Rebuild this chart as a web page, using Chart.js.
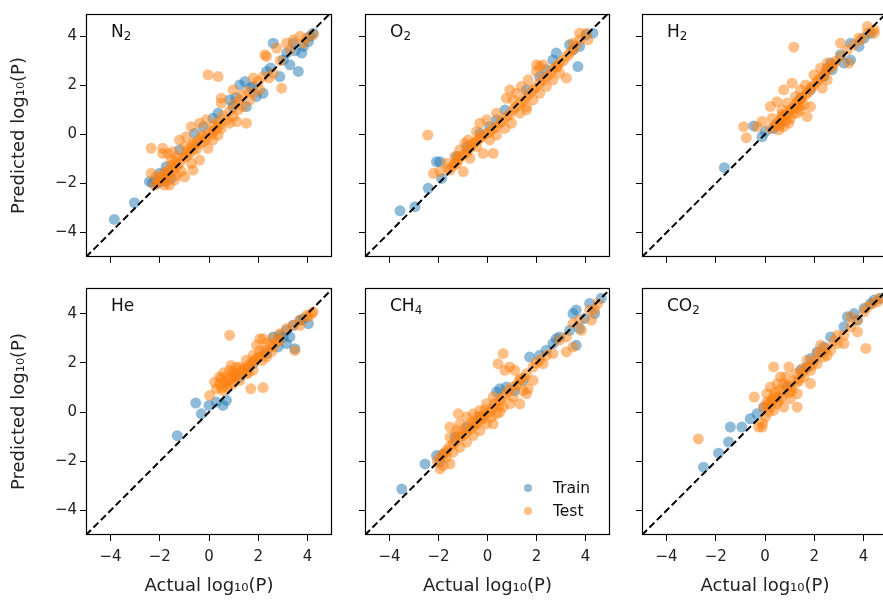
<!DOCTYPE html>
<html>
<head>
<meta charset="utf-8">
<script src="https://cdn.jsdelivr.net/npm/chart.js@4.4.1/dist/chart.umd.min.js"></script>
<style>
    body { margin: 0; width: 883px; height: 600px; overflow: hidden; background: #fff; position: relative; font-family: "DejaVu Sans", sans-serif; }
    canvas { position: absolute; }
    .gas { position: absolute; font-size: 17px; line-height: 17px; color: #111; white-space: nowrap; }
    .gas sub { font-size: 70%; line-height: 0; vertical-align: -0.22em; }
    .legend { position: absolute; left: 520px; top: 478px; font-size: 15.5px; color: #111; }
    .legend div { position: relative; height: 23px; line-height: 20px; padding-left: 33px; }
    .legend span { position: absolute; left: 4px; top: 6px; width: 8px; height: 8px; border-radius: 50%; }
</style>
</head>
<body>
<script>
// Actual vs predicted log10(P) as [actual, predicted]
var n2Train = [[-3.85,-3.47],[-3.03,-2.79],[-2.42,-1.93],[-2.15,-1.86],[-2.29,-1.97],[-1.81,-1.93],[-1.54,-1.8],[-2.01,-1.59],[-1.74,-1.32],[-1.2,-0.64],[-0.59,0.04],[-0.24,0.31],[0.16,0.65],[0.37,0.86],[0.84,1.4],[0.98,1.13],[1.25,2.01],[1.46,2.15],[1.52,1.13],[1.8,1.95],[1.93,1.54],[2.2,1.67],[2.34,2.56],[2.61,3.71],[2.88,2.35],[3.02,3.03],[3.16,3.31],[3.29,2.83],[3.43,3.71],[3.63,2.56],[3.77,3.31],[3.84,3.58],[4.04,3.78],[4.1,3.99],[4.24,4.12],
    [1.1,1.5],[1.7,1.9],[2.5,2.7],[3.5,3.4],[-2.1,-2.0]]
var n2Test = [[-0.04,2.42],[0.37,2.35],[-2.35,-0.57],[-1.88,-0.78],[-1.2,-0.23],[-0.93,-0.1],[-0.72,0.31],[-0.38,0.45],[-0.11,0.59],
    [-1.74,-1.73],[-1.47,-1.46],[-1.2,-1.18],[-0.93,-0.91],[-0.65,-0.64],[-0.38,-0.37],[-0.11,-0.16],[0.16,0.11],[0.44,0.38],[0.71,0.59],
    [-2.01,-1.93],[-2.15,-1.73],[-1.61,-2.07],[-1.4,-1.86],[-1.13,-1.52],[-0.99,-1.73],[-0.65,-1.46],[-0.38,-1.05],[-0.72,-1.18],[-1.27,-0.91],[-1.54,-1.05],[-1.47,-0.71],[-0.99,-0.5],[-0.65,-0.37],[-0.24,-0.1],[0.16,-0.23],[-0.04,-0.57],[0.37,-0.03],[0.5,0.24],[0.84,0.45],[0.98,0.72],[1.18,0.99],[1.39,1.13],[1.12,0.52],[1.52,0.45],
    [0.5,1.47],[0.5,1.27],[0.98,1.81],[1.8,2.29],[2.0,2.15],[2.2,2.35],[2.61,2.49],[2.95,1.88],[2.34,3.17],[2.27,3.24],[2.75,3.51],[3.43,3.85],[3.7,3.99],[3.97,3.92],[4.24,4.05],[3.84,3.71],[3.16,3.71],[1.8,1.67],[2.07,1.81],[1.66,1.4],[1.25,1.4],
    [-2.35,-1.59],[-2.22,-2.07],[-1.81,-2.07],[-1.33,-1.66],[-1.67,-0.78],[-1.88,-0.57],[-1.9,-1.8],[-1.7,-1.9],[-1.6,-1.6],[-1.3,-1.3],[-0.8,-0.8],[-0.5,-0.6],[-0.2,-0.3],[0.1,0.0],[0.3,0.2],
    [-2.1,-2.0],[-1.95,-1.7],[-1.8,-1.55],[-1.65,-1.45],[-1.5,-1.25],[-1.35,-1.1],[-1.05,-0.95],[-0.9,-0.7],[-0.75,-0.55],[-0.6,-0.4],[-0.45,-0.25],[-0.3,-0.05],[0.0,0.15],[0.2,0.35],[0.35,0.5],[0.55,0.75],[0.85,0.95],[1.05,1.25],[1.35,1.6],[1.6,1.75],[2.45,2.3],[2.9,3.0],[3.3,3.45]]

var o2Train = [[-3.57,-3.12],[-2.96,-2.95],[-2.42,-2.2],[-2.08,-1.12],[-1.94,-1.12],[-1.87,-1.8],[-1.26,-0.91],[-0.85,-0.5],[-0.31,0.04],[0.09,0.31],[0.37,0.59],[0.71,0.99],[1.59,1.81],[2.13,2.35],[2.4,2.63],[2.67,3.03],[2.81,3.31],[3.35,3.65],[3.49,3.44],[3.69,2.76],[3.76,3.58],[4.03,4.05],[4.3,4.12]]
var o2Test = [[-2.44,-0.03],[-2.21,-1.59],[-1.94,-1.52],[-1.53,-1.46],[-1.33,-1.18],[-0.99,-1.52],[-1.13,-0.91],[-0.79,-0.64],[-0.58,-0.37],[-0.31,-0.16],[-0.04,0.04],[0.23,0.24],[0.5,0.45],[0.77,0.72],[1.04,0.99],[1.32,1.27],[1.59,1.54],[1.86,1.81],[2.13,2.08],[2.4,2.35],[2.67,2.63],[2.94,2.9],[3.22,3.17],[3.49,3.44],[3.76,3.85],[4.03,4.12],
    [-0.72,-0.98],[-0.45,-0.5],[-0.18,-0.78],[0.23,-0.78],[-0.45,0.11],[-0.79,-0.23],[0.09,-0.23],[0.37,-0.03],[0.71,0.24],[0.98,0.45],[1.32,0.86],[1.59,0.99],[1.04,1.4],[0.77,1.47],[0.91,1.81],[1.38,1.95],[1.66,2.22],[2.0,2.56],[2.27,2.83],[2.0,2.83],[2.94,2.49],[3.22,2.29],[3.49,3.71],[4.1,3.85],[3.76,4.12],[1.59,1.13],[1.86,1.4],[2.13,1.67],[2.4,1.95],[2.67,2.22],[2.81,2.76],[2.13,2.76],[1.18,1.67],[0.37,0.86],[-0.04,0.59],[-0.31,0.45],[-1.26,-1.18],[-1.67,-1.18],[-1.33,-0.91],[-1.13,-0.64],[-0.92,-0.37],
    [-1.6,-1.4],[-1.4,-1.3],[-1.2,-1.05],[-1.0,-0.85],[-0.85,-0.75],[-0.7,-0.5],[-0.5,-0.3],[-0.35,-0.2],[-0.2,-0.05],[0.1,0.1],[0.35,0.3],[0.6,0.55],[0.9,0.8],[1.15,1.1],[1.45,1.35],[1.7,1.65],[1.95,1.9],[2.25,2.2],[2.55,2.45],[2.85,2.75],[3.1,3.0],[3.35,3.3],[3.6,3.6]]

var h2Train = [[-1.65,-1.36],[-0.46,0.34],[-0.12,-0.1],[0.01,0.11],[0.35,0.24],[0.63,0.45],[1.44,1.47],[1.85,1.81],[2.39,2.35],[2.53,2.69],[2.67,2.9],[2.73,2.63],[3.07,3.24],[3.21,2.9],[3.48,3.71],[3.48,3.03],[3.82,3.58],[4.03,3.92],[4.3,4.12]]
var h2Test = [[1.17,3.55],[-0.87,0.31],[-0.76,-0.14],[0.22,1.13],[0.49,1.33],[0.69,0.79],[1.1,2.08],[0.76,1.81],[1.71,0.72],[1.85,1.13],
    [0.42,0.38],[0.63,0.59],[0.83,0.79],[1.03,0.99],[1.24,1.2],[1.44,1.4],[1.65,1.61],[1.85,1.88],[2.05,2.08],[2.26,2.29],[2.46,2.56],[2.67,2.76],[2.87,2.97],[3.07,3.17],[3.35,3.44],[3.62,3.65],[3.89,3.85],[4.16,4.12],[4.44,4.12],
    [0.56,0.18],[0.76,0.31],[0.97,0.45],[1.03,0.65],[1.31,0.86],[1.44,0.99],[1.58,1.2],[0.9,1.27],[0.69,0.99],[1.24,1.54],[1.44,1.81],[1.65,2.01],[2.26,2.69],[2.53,2.9],[3.07,3.71],[3.41,2.9],[3.82,3.92],[4.16,4.39],[4.44,4.26],[1.99,2.42],[2.33,1.88],[2.53,2.22],[0.22,0.24],[0.29,0.65],[-0.33,0.31],[-0.12,0.52],
    [0.5,0.45],[0.7,0.7],[0.9,0.85],[1.1,1.05],[1.3,1.3],[1.5,1.5],[1.75,1.7],[1.95,1.95],[2.15,2.2],[2.4,2.4],[2.6,2.65],[2.8,2.85],[0.6,0.35],[0.85,0.55],[1.15,0.85],[1.4,1.15]]

var heTrain = [[-1.29,-0.96],[-0.54,0.37],[-0.31,-0.07],[0,0.27],[0.3,0.41],[0.57,0.27],[0.71,0.48],[1.25,1.43],[1.79,1.97],[2.34,2.38],[2.61,3.06],[2.81,2.65],[2.88,3.13],[3.02,3.06],[3.15,3.33],[3.15,2.79],[3.29,3.06],[3.42,3.53],[3.49,2.58],[3.7,3.74],[3.83,3.8],[4.04,3.6]]
var heTest = [[0.84,3.13],[0.03,0.68],[1.7,0.95],[2.2,1.0],[3.49,2.51],
    [0.43,1.15],[0.71,1.43],[0.98,1.63],[1.25,1.83],[1.52,2.11],[1.79,2.31],[2.07,2.51],[2.34,2.79],[2.61,2.99],[2.88,3.19],[3.15,3.4],[3.42,3.53],[3.7,3.74],[3.97,3.94],[4.17,4.01],
    [0.43,1.43],[0.57,0.88],[0.84,1.15],[1.11,1.43],[1.39,1.7],[1.59,1.83],[1.79,2.04],[1.99,2.24],[2.2,2.38],[1.93,2.72],[2.07,2.99],[2.34,2.24],[1.25,1.29],[0.98,1.15],[0.71,1.02],[0.3,0.95],[0.84,1.7],[1.11,1.83],[1.52,1.56],[1.79,1.7],[2.61,2.65],[2.88,2.92],[3.7,3.53],[4.04,3.87],[4.24,4.08],[2.2,2.99],[2.54,2.45],[0.23,1.22],[0.5,1.36],
    [0.5,1.0],[0.65,1.2],[0.8,1.3],[0.95,1.4],[1.1,1.55],[1.3,1.65],[1.45,1.8],[1.65,1.95],[1.85,2.1],[2.0,2.2],[2.15,2.1],[2.3,2.5],[2.5,2.7],[2.75,2.85],[1.0,1.5],[1.6,1.6],[0.6,1.6],[0.9,1.9]]

var ch4Train = [[-3.5,-3.13],[-2.55,-2.11],[-2.08,-1.77],[-1.94,-2.04],[-1.8,-1.7],[-1.33,-1.02],[-0.85,-0.61],[-0.31,-0.2],[0.37,0.82],[0.5,0.95],[0.77,1.02],[1.11,0.88],[1.45,1.29],[1.72,2.24],[2.13,2.31],[2.4,2.52],[2.67,2.79],[2.81,2.99],[2.94,3.06],[3.35,3.33],[3.49,4.01],[3.62,4.15],[3.62,2.72],[3.76,3.4],[3.96,3.81],[4.17,4.42],[4.37,4.01],[4.64,4.63]]
var ch4Test = [[0.91,1.84],[1.11,1.7],[1.32,1.36],[1.45,0.88],[1.66,0.95],[1.86,1.29],[0.64,2.38],[0.71,1.7],[0.43,1.97],[-1.94,-2.31],
    [-1.94,-1.84],[-1.67,-1.56],[-1.4,-1.29],[-1.13,-1.02],[-0.85,-0.82],[-0.58,-0.54],[-0.31,-0.34],[-0.04,-0.07],[0.23,0.2],[0.5,0.48],[0.77,0.75],[1.04,1.02],[1.32,1.29],[1.59,1.56],[1.86,1.84],[2.13,2.11],[2.4,2.31],[2.94,2.93],[3.22,3.06],[3.49,3.61],[3.76,3.74],[4.17,4.15],[4.5,4.42],
    [-1.53,-1.02],[-1.26,-0.75],[-1.53,-0.61],[-1.13,-0.48],[-0.85,-0.2],[-1.19,-0.07],[-0.58,-0.07],[-0.31,0.07],[-0.04,0.34],[0.23,0.61],[0.37,-0.07],[0.23,-0.48],[-0.04,-0.48],[-0.31,-0.75],[-0.58,-0.95],[-0.85,-1.22],[-1.13,-1.43],[-1.4,-1.63],[-1.67,-1.84],[-1.8,-2.18],[-1.53,-2.11],[-0.52,-0.41],[-0.18,-0.27],[0.16,-0.2],[0.5,0],[0.64,0.2],[0.91,0.34],[1.04,0.61],[1.32,0.34],[1.59,0.75],[3.49,2.65],[3.22,2.45],[3.83,3.33],[4.24,3.74],[4.37,4.15],[2.67,2.38],[2.27,1.97],
    [-2.05,-2.0],[-1.85,-1.75],[-1.7,-1.65],[-1.55,-1.4],[-1.3,-1.2],[-1.2,-0.9],[-1.0,-0.95],[-0.9,-0.65],[-0.7,-0.7],[-0.65,-0.4],[-0.45,-0.5],[-0.4,-0.2],[-0.2,-0.15],[-0.1,0.1],[0.1,0.0],[0.3,0.35],[0.45,0.25],[0.6,0.6],[0.85,0.9],[1.2,1.1],[1.5,1.4],[2.0,2.0]]

var co2Train = [[-2.5,-2.24],[-1.89,-1.67],[-1.48,-1.22],[-1.41,-0.61],[-0.94,-0.61],[-0.6,-0.27],[-0.33,-0.07],[-0.05,0.2],[0.9,1.02],[1.44,1.7],[1.71,1.84],[1.85,2.18],[2.12,2.45],[2.39,2.65],[2.67,3.06],[3.21,3.47],[3.35,3.88],[3.62,4.01],[3.76,3.74],[4.03,4.22],[4.3,4.42],[4.44,4.56],[4.71,4.63]]
var co2Test = [[-2.71,-1.09],[-0.44,0.61],[-0.12,-0.61],[-0.26,-0.61],[0.35,1.84],[0.97,1.84],[4.1,2.59],
    [-0.05,0.2],[0.22,0.41],[0.49,0.61],[0.76,0.82],[1.03,1.02],[1.31,1.22],[1.58,1.43],[1.85,1.7],[2.12,1.97],[2.39,2.24],[2.67,2.52],[2.94,2.79],[3.21,3.13],[3.48,3.47],[3.76,3.74],[4.03,4.08],[4.37,4.42],[4.64,4.63],
    [0.08,0.75],[0.22,1.02],[0.49,1.16],[0.63,1.43],[0.76,1.16],[0.35,0.61],[0.49,0.34],[0.76,0.2],[1.03,0.54],[1.31,0.75],[1.31,0.2],[1.1,0.88],[0.83,1.43],[1.24,1.56],[1.52,1.77],[1.71,2.11],[1.85,1.16],[0.22,0.2],[0.08,0.41],[0.01,-0.2],[0.35,0.07],[2.26,2.72],[2.12,2.38],[2.53,2.31],[2.94,3.13],[3.21,2.79],[3.48,3.88],[3.76,3.27],[4.16,4.28],[4.57,4.49],
    [0.1,0.3],[0.3,0.5],[0.4,0.8],[0.6,0.9],[0.7,0.6],[0.9,1.1],[1.0,0.8],[1.2,1.3],[1.4,1.3],[1.5,1.6],[1.7,1.8],[1.9,1.9],[2.0,2.1],[2.3,2.4],[2.5,2.6],[2.8,2.9],[0.15,0.0],[0.55,0.45],[-0.1,-0.45]]

var tickValues = [-4, -2, 0, 2, 4]
var xRange = [-5, 5]
var yRangeTop = [-5, 4.9]
var yRangeBottom = [-5, 5.05]
var diagonal = [-5, 5]

var gasNames = ['N<sub>2</sub>', 'O<sub>2</sub>', 'H<sub>2</sub>', 'He', 'CH<sub>4</sub>', 'CO<sub>2</sub>']
var trainSets = [n2Train, o2Train, h2Train, heTrain, ch4Train, co2Train]
var testSets = [n2Test, o2Test, h2Test, heTest, ch4Test, co2Test]

var trainColor = 'rgba(31,119,180,0.5)'
var testColor = 'rgba(255,127,14,0.5)'
var fontFamily = '"DejaVu Sans", sans-serif'

// plot boxes in page pixels: [left, width] per column, [top, height] per row
var colBox = [[86, 246], [365, 245], [642, 246]]
var rowBox = [[14, 243], [288, 247]]
var AXIS_W = 86, AXIS_H = 65, PAD_T = 14, PAD_R = 10

var framePlugin = {
    id: 'frame',
    afterDraw: function (chart) {
        var a = chart.chartArea, ctx = chart.ctx
        ctx.save()
        ctx.strokeStyle = '#000'
        ctx.lineWidth = 1.2
        ctx.strokeRect(Math.round(a.left) + 0.5, Math.round(a.top) + 0.5, Math.round(a.right - a.left) - 1, Math.round(a.bottom - a.top) - 1)
        ctx.restore()
    }
}

function toPoints(pairs) {
    return pairs.map(function (p) { return { x: p[0], y: p[1] } })
}

function tickText(v) {
    return v < 0 ? '\u2212' + Math.abs(v) : String(v)
}

function CreatePanel(i) {
    var col = i % 3, row = Math.floor(i / 3)
    var left = colBox[col][0], w = colBox[col][1]
    var top = rowBox[row][0], h = rowBox[row][1]
    var yRange = row === 0 ? yRangeTop : yRangeBottom

    var canvas = document.createElement('canvas')
    canvas.width = AXIS_W + w + PAD_R
    canvas.height = PAD_T + h + AXIS_H
    canvas.style.left = (left - AXIS_W) + 'px'
    canvas.style.top = (top - PAD_T) + 'px'
    document.body.appendChild(canvas)

    new Chart(canvas, {
        type: 'scatter',
        data: {
            datasets: [{
                type: 'line',
                data: diagonal.map(function (v) { return { x: v, y: v } }),
                borderColor: '#000',
                borderWidth: 2,
                borderDash: [7, 3.5],
                pointRadius: 0,
                fill: false,
                order: 0
            }, {
                label: 'Test',
                data: toPoints(testSets[i]),
                backgroundColor: testColor,
                borderWidth: 0,
                pointRadius: 5.5,
                order: 1
            }, {
                label: 'Train',
                data: toPoints(trainSets[i]),
                backgroundColor: trainColor,
                borderWidth: 0,
                pointRadius: 5.5,
                order: 2
            }]
        },
        options: {
            responsive: false,
            animation: false,
            events: [],
            layout: { autoPadding: false, padding: { top: PAD_T, right: PAD_R, left: 0, bottom: 0 } },
            plugins: { legend: { display: false }, tooltip: { enabled: false } },
            scales: {
                x: {
                    type: 'linear',
                    min: xRange[0],
                    max: xRange[1],
                    afterBuildTicks: function (axis) { axis.ticks = tickValues.map(function (v) { return { value: v } }) },
                    afterFit: function (axis) { axis.height = AXIS_H },
                    grid: { display: true, drawOnChartArea: false, drawTicks: true, tickLength: 6, color: '#000', lineWidth: 1 },
                    border: { display: false },
                    ticks: { display: row === 1, padding: 7.5, color: '#222', font: { family: fontFamily, size: 15 }, callback: tickText },
                    title: { display: row === 1, text: 'Actual log\u2081\u2080(P)', color: '#222', font: { family: fontFamily, size: 18 }, padding: { top: 0, bottom: 3 } }
                },
                y: {
                    type: 'linear',
                    min: yRange[0],
                    max: yRange[1],
                    afterBuildTicks: function (axis) { axis.ticks = tickValues.map(function (v) { return { value: v } }) },
                    afterFit: function (axis) { axis.width = AXIS_W },
                    grid: { display: true, drawOnChartArea: false, drawTicks: true, tickLength: 6, color: '#000', lineWidth: 1 },
                    border: { display: false },
                    ticks: { display: col === 0, padding: 3, color: '#222', font: { family: fontFamily, size: 15 }, callback: tickText },
                    title: { display: col === 0, text: 'Predicted log\u2081\u2080(P)', color: '#222', font: { family: fontFamily, size: 18 }, padding: { top: 8.5, bottom: 0 } }
                }
            }
        },
        plugins: [framePlugin]
    })

    var name = document.createElement('div')
    name.className = 'gas'
    name.innerHTML = gasNames[i]
    name.style.left = (left + 25) + 'px'
    name.style.top = (top + 9) + 'px'
    document.body.appendChild(name)
}

for (var i = 0; i < 6; i++) CreatePanel(i)

var legend = document.createElement('div')
legend.className = 'legend'
legend.innerHTML = '<div><span style="background:' + trainColor + '"></span>Train</div>' +
    '<div><span style="background:' + testColor + '"></span>Test</div>'
document.body.appendChild(legend)
</script>
</body>
</html>
